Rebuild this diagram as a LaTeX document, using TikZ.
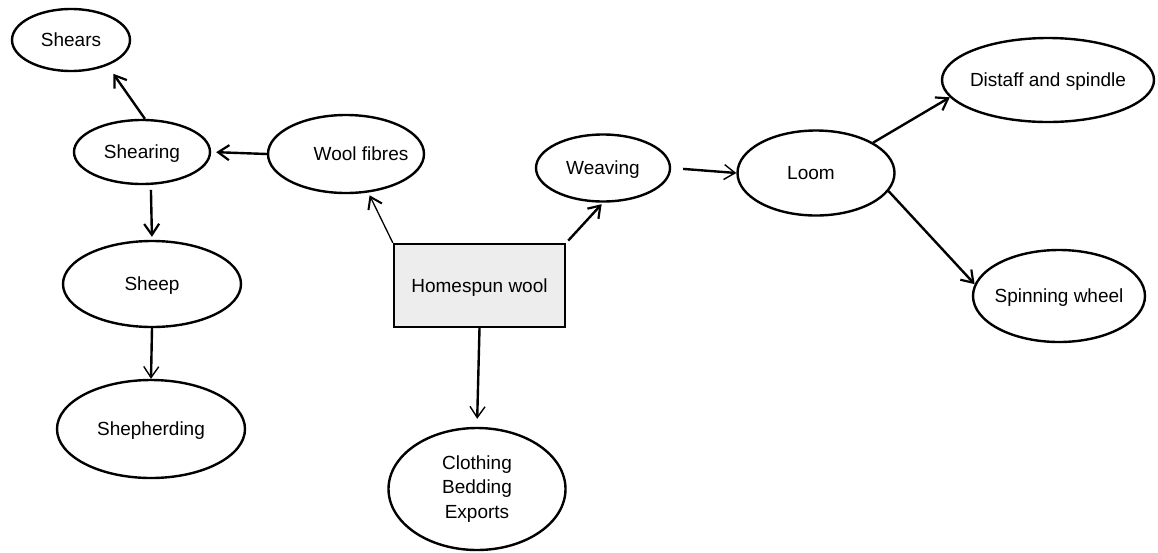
\documentclass[tikz,border=0pt]{standalone}
\usepackage{fontspec}
\setmainfont{Liberation Sans}
\usetikzlibrary{shapes.geometric,arrows.meta}
\begin{document}
\begin{tikzpicture}[x=1pt,y=-1pt,
  every node/.style={font=\fontsize{19}{24.5}\selectfont},
  oneline/.style={text height=13.6pt,text depth=0pt},
  bubble/.style={ellipse,draw,line width=2.4pt,inner sep=0pt,align=center},
  tag/.style={label={[oneline]center:#1}},
  hub/.style={rectangle,draw,line width=2.4pt,fill=gray!14,inner sep=0pt,
    minimum width=171pt,minimum height=83pt,oneline},
  link/.style={line width=2.4pt,-{Straight Barb[length=11pt,width=15pt,line width=2.2pt]}},
  lightlink/.style={line width=2.4pt,-{Straight Barb[length=11pt,width=15pt,line width=1.4pt]}},
  thinlink/.style={line width=1.3pt,-{Straight Barb[length=11pt,width=15pt,line width=2pt]}}
]
\useasboundingbox (0,0) rectangle (1158,552);

% left branch: wool fibres back to the flock
\node[bubble,tag=Shears,minimum width=118pt,minimum height=62pt] (shears) at (71,40) {};
\node[bubble,tag=Shearing,minimum width=136pt,minimum height=64pt] (shearing) at (142,152) {};
\node[bubble,label={[oneline,xshift=15pt]center:Wool fibres},
  minimum width=156pt,minimum height=78pt] (wool) at (346,154) {};
\node[bubble,tag=Sheep,minimum width=178pt,minimum height=86pt] (sheep) at (152,284) {};
\node[bubble,tag=Shepherding,minimum width=188pt,minimum height=98pt] (shepherd) at (151,429) {};

% centre and its products
\node[hub] (home) at (479.5,285.5) {Homespun wool};
\node[bubble,minimum width=177pt,minimum height=122pt] (cloth) at (477,489) {Clothing\\Bedding\\Exports};

% right branch: weaving and its tools
\node[bubble,tag=Weaving,minimum width=134pt,minimum height=67pt] (weaving) at (603,168) {};
\node[bubble,label={[oneline,xshift=-5pt]center:Loom},
  minimum width=157pt,minimum height=85pt] (loom) at (816,173) {};
\node[bubble,tag=Distaff and spindle,minimum width=212pt,minimum height=84pt] (distaff) at (1048,80) {};
\node[bubble,tag=Spinning wheel,minimum width=172pt,minimum height=92pt] (spin) at (1059,296) {};

% connectors
\draw[link,shorten >=10pt] (shearing.85) -- (shears.-35);
\draw[link,shorten >=5pt] (wool.west) -- (shearing.east);
\draw[link,shorten <=5pt,shorten >=3pt] (shearing.-75) -- (sheep.north);
\draw[lightlink] (sheep.south) -- (shepherd.north);
\draw[thinlink,shorten >=3pt] (home.north west) -- (wool.-60);
\draw[link,shorten <=3pt,shorten >=2pt] (home.north east) -- (weaving.south);
\draw[lightlink,shorten >=8pt] (home.south) -- (cloth.north);
\draw[lightlink,shorten <=12pt] (weaving.east) -- (loom.west);
\draw[link] (loom.28) -- (distaff.190);
\draw[link] (loom.-14) -- (spin.172);
\end{tikzpicture}
\end{document}
